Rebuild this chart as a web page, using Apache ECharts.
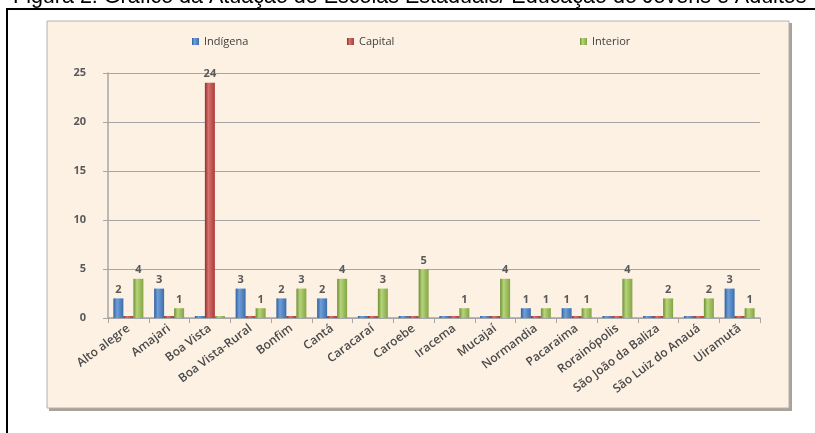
<!DOCTYPE html>
<html>
<head>
<meta charset="utf-8">
<script src="https://cdn.jsdelivr.net/npm/echarts@6/dist/echarts.min.js"></script>
<style>
html,body{margin:0;padding:0;background:#fff;}
#c{width:815px;height:433px;}
</style>
</head>
<body>
<div id="c"></div>
<script>
const categories = ['Alto alegre','Amajari','Boa Vista','Boa Vista-Rural','Bonfim','Cantá','Caracaraí','Caroebe','Iracema','Mucajaí','Normandia','Pacaraima','Rorainópolis','São João da Baliza','São Luiz do Anauá','Uiramutã'];
const indigena = [2,3,0,3,2,2,0,0,0,0,1,1,0,0,0,3];
const capital  = [0,0,24,0,0,0,0,0,0,0,0,0,0,0,0,0];
const interior = [4,1,0,1,3,4,3,5,1,4,1,1,4,2,2,1];
const seriesNames = ['Indígena','Capital','Interior'];
const yTicks = [0,5,10,15,20,25];
const caption = 'Figura 2: Gráfico da Atuação de Escolas Estaduais/ Educação do Jovens e Adultos';

function grad(dark, mid, light){
  return new echarts.graphic.LinearGradient(0,0,1,0,[
    {offset:0,color:dark},{offset:0.35,color:light},{offset:1,color:mid}
  ]);
}
const colors = ['#4a7ebb','#be4b48','#98b954'];
const fills = [grad('#2f5f99','#3c6eaa','#6f9fdb'), grad('#8e2f2c','#a93c39','#d8706c'), grad('#6d8e33','#84a444','#b6d57a')];
const labelStyle = {show:true, position:'top', distance:3, color:'#595959', fontWeight:'bold', fontSize:11, fontFamily:'Open Sans',
  formatter:p => p.value ? String(p.value) : ''};

const chart = echarts.init(document.getElementById('c'), null, {renderer:'canvas'});
const mk = (i, data) => ({
  name: seriesNames[i], type:'bar', data:data, barWidth:10, barGap:'0%', barMinHeight:2,
  itemStyle:{color:fills[i]}, label:labelStyle
});
chart.setOption({
  animation:false,
  color:colors,
  graphic:[
    {type:'text', left:13, top:-14, style:{text:caption, font:'21.5px "Liberation Sans", Arial', fill:'#000'}},
    {type:'rect', shape:{x:7, y:9, width:830, height:440}, style:{fill:'none', stroke:'#000', lineWidth:2}, z:-10},
    {type:'rect', shape:{x:49, y:23, width:743, height:388}, style:{fill:'#a8a29a'}, z:-9},
    {type:'rect', shape:{x:47, y:21, width:742, height:387}, style:{fill:'#fdf1e3', stroke:'#b5b0a8', lineWidth:1}, z:-8}
  ],
  legend:[
    {data:[seriesNames[0]], left:187, top:31, itemWidth:7, itemHeight:7, icon:'rect', textStyle:{color:'#404040', fontSize:11, fontFamily:'Open Sans'}},
    {data:[seriesNames[1]], left:342, top:31, itemWidth:7, itemHeight:7, icon:'rect', textStyle:{color:'#404040', fontSize:11, fontFamily:'Open Sans'}},
    {data:[seriesNames[2]], left:575, top:31, itemWidth:7, itemHeight:7, icon:'rect', textStyle:{color:'#404040', fontSize:11, fontFamily:'Open Sans'}}
  ],
  grid:{left:108, right:55, top:73, bottom:115},
  xAxis:{type:'category', data:categories,
    axisLine:{lineStyle:{color:'#a6a6a6', width:1.5}},
    axisTick:{show:true, alignWithLabel:false, lineStyle:{color:'#a6a6a6'}},
    axisLabel:{rotate:37, interval:0, color:'#4a4a4a', fontSize:12, fontWeight:600, fontFamily:'Open Sans', margin:9}
  },
  yAxis:{type:'value', min:yTicks[0], max:yTicks[yTicks.length-1], interval:5,
    axisLine:{show:true, lineStyle:{color:'#a6a6a6', width:1.5}},
    axisTick:{show:true, lineStyle:{color:'#a6a6a6'}},
    axisLabel:{color:'#595959', fontWeight:'bold', fontSize:11, fontFamily:'Open Sans', margin:22},
    splitLine:{lineStyle:{color:'#a6a6a6', width:1.2}}
  },
  series:[mk(0,indigena), mk(1,capital), mk(2,interior)]
});
</script>
</body>
</html>
